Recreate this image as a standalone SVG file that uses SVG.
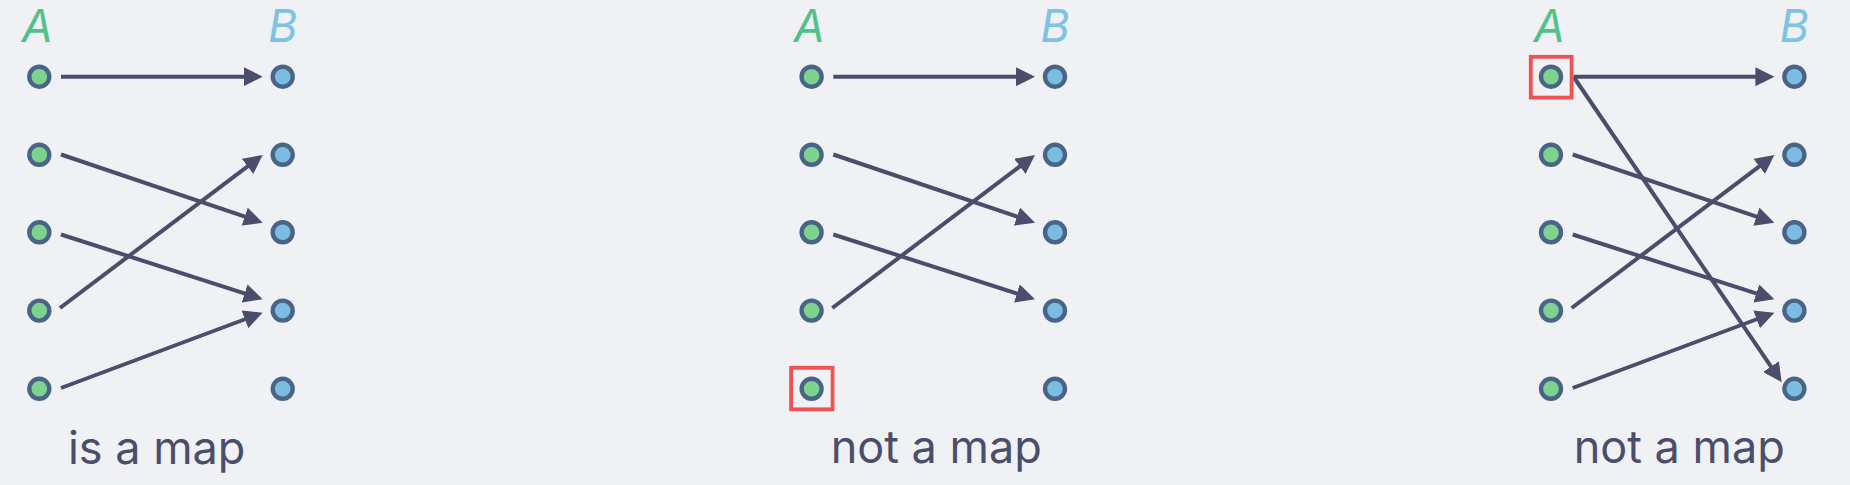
<svg xmlns="http://www.w3.org/2000/svg" width="1850" height="485" viewBox="0 0 1850 485">
<style>
.a{fill:#7dd38d;stroke:#4a6487;stroke-width:4.4}
.b{fill:#7abde0;stroke:#4a6487;stroke-width:4.4}
.e{stroke:#4b4e6b;stroke-width:4;fill:none;marker-end:url(#ah)}
.la{font-family:Inter,"Noto Sans",sans-serif;font-style:italic;font-size:45px;fill:#4fc28a;text-anchor:middle}
.lb{font-family:Inter,"Noto Sans",sans-serif;font-style:italic;font-size:45px;fill:#7ec3e6;text-anchor:middle}
.cap{font-family:Inter,"Noto Sans",sans-serif;font-size:45px;fill:#4b4e6b;text-anchor:middle}
.hl{fill:none;stroke:#f05252;stroke-width:3.8}
</style>
<defs>
<marker id="ah" markerUnits="userSpaceOnUse" markerWidth="19" markerHeight="19" refX="8" refY="9.5" orient="auto" viewBox="0 0 19 19">
<path d="M0,0 L19,9.5 L0,19 z" fill="#4b4e6b"/>
</marker>
</defs>
<rect width="1850" height="485" fill="#eff1f5"/>

<!-- Panel 1 -->
<g id="panel1">
<text class="la" x="37.3" y="41.7">A</text>
<text class="lb" x="282.7" y="41.7">B</text>
<g id="connectors1">
<line class="e" x1="61" y1="76.7" x2="251.7" y2="76.7"/>
<line class="e" x1="61" y1="154.5" x2="252.3" y2="219.2"/>
<line class="e" x1="61" y1="234.5" x2="252.2" y2="295.9"/>
<line class="e" x1="60" y1="308" x2="253.9" y2="161.6"/>
<line class="e" x1="61" y1="388" x2="252.4" y2="316.5"/>
</g>
<g id="p1-a1"><circle class="a" cx="39.3" cy="76.7" r="10"/></g>
<g id="p1-a2"><circle class="a" cx="39.3" cy="154.8" r="10"/></g>
<g id="p1-a3"><circle class="a" cx="39.3" cy="232.3" r="10"/></g>
<g id="p1-a4"><circle class="a" cx="39.3" cy="310.6" r="10"/></g>
<g id="p1-a5"><circle class="a" cx="39.3" cy="388.8" r="10"/></g>
<g id="p1-b1"><circle class="b" cx="282.7" cy="76.7" r="10"/></g>
<g id="p1-b2"><circle class="b" cx="282.7" cy="154.8" r="10"/></g>
<g id="p1-b3"><circle class="b" cx="282.7" cy="232.3" r="10"/></g>
<g id="p1-b4"><circle class="b" cx="282.7" cy="310.6" r="10"/></g>
<g id="p1-b5"><circle class="b" cx="282.7" cy="388.8" r="10"/></g>
<text class="cap" x="156.7" y="464">is a map</text>
</g>

<!-- Panel 2 -->
<g id="panel2">
<text class="la" x="809.3" y="41.7">A</text>
<text class="lb" x="1055" y="41.7">B</text>
<g id="connectors2" transform="translate(772.3,0)">
<line class="e" x1="61" y1="76.7" x2="251.7" y2="76.7"/>
<line class="e" x1="61" y1="154.5" x2="252.3" y2="219.2"/>
<line class="e" x1="61" y1="234.5" x2="252.2" y2="295.9"/>
<line class="e" x1="60" y1="308" x2="253.9" y2="161.6"/>
</g>
<g id="p2-a1"><circle class="a" cx="811.6" cy="76.7" r="10"/></g>
<g id="p2-a2"><circle class="a" cx="811.6" cy="154.8" r="10"/></g>
<g id="p2-a3"><circle class="a" cx="811.6" cy="232.3" r="10"/></g>
<g id="p2-a4"><circle class="a" cx="811.6" cy="310.6" r="10"/></g>
<g id="p2-a5"><circle class="a" cx="811.6" cy="388.8" r="10"/><rect class="hl" x="791.1" y="367.8" width="41.5" height="41.5"/></g>
<g id="p2-b1"><circle class="b" cx="1055" cy="76.7" r="10"/></g>
<g id="p2-b2"><circle class="b" cx="1055" cy="154.8" r="10"/></g>
<g id="p2-b3"><circle class="b" cx="1055" cy="232.3" r="10"/></g>
<g id="p2-b4"><circle class="b" cx="1055" cy="310.6" r="10"/></g>
<g id="p2-b5"><circle class="b" cx="1055" cy="388.8" r="10"/></g>
<text class="cap" x="936.2" y="463">not a map</text>
</g>

<!-- Panel 3 -->
<g id="panel3">
<text class="la" x="1549.3" y="41.7">A</text>
<text class="lb" x="1794.3" y="41.7">B</text>
<g id="connectors3" transform="translate(1511.7,0)">
<line class="e" x1="62" y1="76.7" x2="251.7" y2="76.7"/>
<line class="e" x1="62" y1="77" x2="263.8" y2="373.2"/>
<line class="e" x1="61" y1="154.5" x2="252.3" y2="219.2"/>
<line class="e" x1="61" y1="234.5" x2="252.2" y2="295.9"/>
<line class="e" x1="60" y1="308" x2="253.9" y2="161.6"/>
<line class="e" x1="61" y1="388" x2="252.4" y2="316.5"/>
</g>
<g id="p3-a1"><circle class="a" cx="1551" cy="76.7" r="10"/><rect class="hl" x="1530.8" y="56.8" width="40.8" height="40.8"/></g>
<g id="p3-a2"><circle class="a" cx="1551" cy="154.8" r="10"/></g>
<g id="p3-a3"><circle class="a" cx="1551" cy="232.3" r="10"/></g>
<g id="p3-a4"><circle class="a" cx="1551" cy="310.6" r="10"/></g>
<g id="p3-a5"><circle class="a" cx="1551" cy="388.8" r="10"/></g>
<g id="p3-b1"><circle class="b" cx="1794.4" cy="76.7" r="10"/></g>
<g id="p3-b2"><circle class="b" cx="1794.4" cy="154.8" r="10"/></g>
<g id="p3-b3"><circle class="b" cx="1794.4" cy="232.3" r="10"/></g>
<g id="p3-b4"><circle class="b" cx="1794.4" cy="310.6" r="10"/></g>
<g id="p3-b5"><circle class="b" cx="1794.4" cy="388.8" r="10"/></g>
<text class="cap" x="1679.2" y="463">not a map</text>
</g>
</svg>
